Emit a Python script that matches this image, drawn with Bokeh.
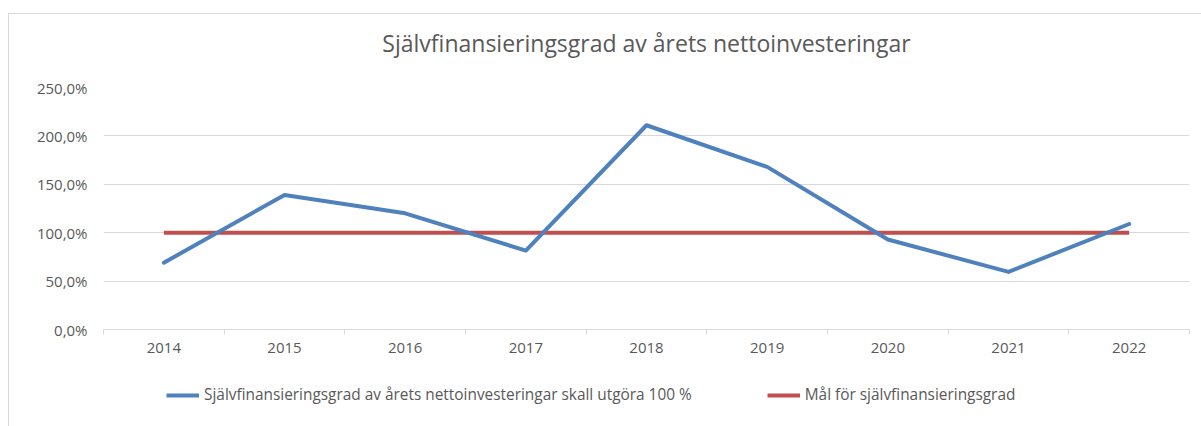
from bokeh.plotting import figure
from bokeh.layouts import column
from bokeh.models import FixedTicker, Legend, LegendItem, ColumnDataSource, Title
from bokeh.embed import file_html
from bokeh.resources import INLINE
import numpy as np

years = ["2014", "2015", "2016", "2017", "2018", "2019", "2020", "2021", "2022"]
actual = [69.0, 139.0, 120.0, 81.5, 211.0, 168.0, 93.0, 59.5, 109.0]
target = [100.0] * len(years)
y_ticks = [0, 50, 100, 150, 200, 250]

title = "Självfinansieringsgrad av årets nettoinvesteringar"
name_actual = "Självfinansieringsgrad av årets nettoinvesteringar skall utgöra 100 %"
name_target = "Mål för självfinansieringsgrad"

FONT = "Open Sans"
GREY = "#595959"
BLUE = "#4F81BD"
RED = "#C0504D"
OX, OY = 9, 14  # outer chart border offset
W = 1201 - OX
H1 = 364 - OY
H2 = 426 - 364

xc = list(np.arange(len(years)) + 0.5)
src = ColumnDataSource(dict(x=xc, actual=actual, target=target))

p = figure(width=W, height=H1, output_backend="svg", toolbar_location=None,
           x_range=(0, len(years)), y_range=(0, 250),
           min_border_left=103 - OX, min_border_right=12, min_border_top=87 - OY,
           min_border_bottom=364 - 329)
p.outline_line_color = None
p.background_fill_color = "white"
p.border_fill_color = "white"

p.line("x", "target", source=src, line_color=RED, line_width=4)
p.line("x", "actual", source=src, line_color=BLUE, line_width=4,
       line_join="round", line_cap="round")

# y axis
p.yaxis.ticker = FixedTicker(ticks=y_ticks)
p.yaxis.major_label_overrides = {t: (f"{t:.1f}%").replace(".", ",") for t in y_ticks}
p.yaxis.axis_line_color = None
p.yaxis.major_tick_line_color = None
p.yaxis.minor_tick_line_color = None
p.yaxis.major_label_standoff = 10
p.yaxis.major_label_text_font = FONT
p.yaxis.major_label_text_font_size = "15px"
p.yaxis.major_label_text_color = GREY

# x axis
p.xaxis.ticker = FixedTicker(ticks=xc, minor_ticks=list(range(len(years) + 1)))
p.xaxis.major_label_overrides = {x: y for x, y in zip(xc, years)}
p.xaxis.axis_line_color = "#D9D9D9"
p.xaxis.major_tick_line_color = None
p.xaxis.major_tick_out = 0
p.xaxis.major_tick_in = 0
p.xaxis.minor_tick_line_color = "#D9D9D9"
p.xaxis.minor_tick_out = 5
p.xaxis.minor_tick_in = 0
p.xaxis.major_label_standoff = 8
p.xaxis.major_label_text_font = FONT
p.xaxis.major_label_text_font_size = "15px"
p.xaxis.major_label_text_color = GREY

p.xgrid.grid_line_color = None
p.ygrid.grid_line_color = "#D9D9D9"
p.ygrid.ticker = FixedTicker(ticks=y_ticks)

# spacer panel between frame and title, then the title itself
spacer = Title(text=" ", text_font_size="1px", standoff=16, text_color="white")
p.add_layout(spacer, "above")
t = Title(text=title, align="center", text_font=FONT,
          text_font_size="23px", text_color=GREY, text_font_style="normal", standoff=20)
p.add_layout(t, "above")

# legend strip (same series drawn far outside its visible range, only the legend shows)
p2 = figure(width=W, height=H2, output_backend="svg", toolbar_location=None,
            x_range=(0, len(years)), y_range=(1000, 1001),
            x_axis_location=None, y_axis_location=None,
            min_border_left=0, min_border_right=0, min_border_top=0, min_border_bottom=0)
p2.grid.visible = False
p2.outline_line_color = None
p2.border_fill_color = "white"
p2.background_fill_color = "white"
la = p2.line("x", "actual", source=src, line_color=BLUE, line_width=4)
lt = p2.line("x", "target", source=src, line_color=RED, line_width=4)
legend = Legend(items=[LegendItem(label=name_actual, renderers=[la]),
                       LegendItem(label=name_target, renderers=[lt])],
                orientation="horizontal", location=(167 - OX - 95, 21),
                padding=0, margin=0, spacing=75, glyph_width=33, glyph_height=20,
                label_standoff=5, label_text_font=FONT, label_text_font_size="15.4px",
                label_text_color=GREY, border_line_color=None, background_fill_alpha=0)
p2.add_layout(legend, "center")

layout = column(p, p2, spacing=0,
                styles={"margin-left": f"{OX - 1}px", "margin-top": f"{OY - 1}px",
                        "border-left": "1px solid #D9D9D9", "border-top": "1px solid #D9D9D9"})

open("out.html", "w").write(file_html(layout, INLINE))
